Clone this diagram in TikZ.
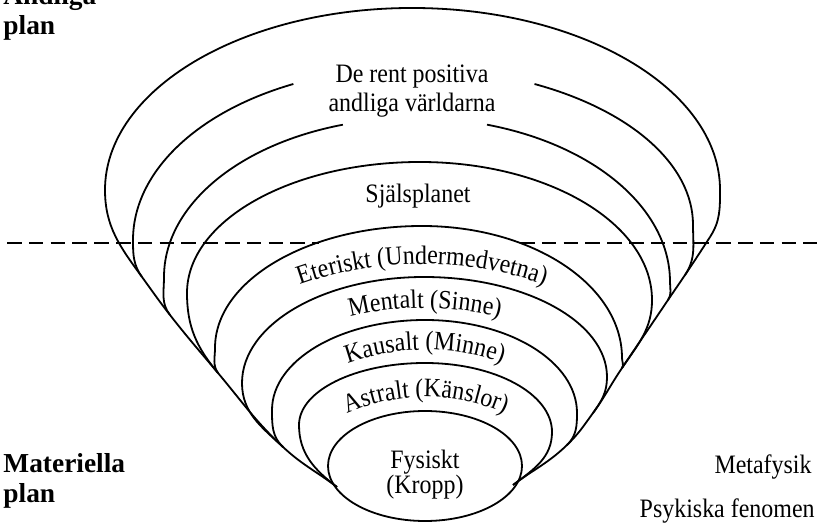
\documentclass[tikz,border=0pt]{standalone}
\usepackage{fontspec}
\setmainfont{Liberation Serif}
\newfontfamily\condfont[FakeStretch=0.9]{Liberation Serif}
\usetikzlibrary{positioning,shapes.geometric,decorations.text}

\newcommand{\layerfont}{\condfont\fontsize{13.3}{14.5}\selectfont}
\newcommand{\headfont}{\bfseries\fontsize{13.7}{15}\selectfont}

\begin{document}
\begin{tikzpicture}[x=0.5pt,y=0.5pt,
	planline/.style={line width=0.9pt},
	divider/.style={line width=1.3pt,dash pattern=on 7.3pt off 3.6pt},
	head/.style={font=\headfont,inner sep=0pt},
	txt/.style={font=\layerfont,inner sep=0pt},
	curved/.style={decorate,decoration={text along path,text align=center,text={|\layerfont|#1}}}]
	 	\useasboundingbox (0,0) rectangle (817,528);

	 	\coordinate (l1) at (337,41);
	 	\coordinate (l2) at (283,81);
	 	\coordinate (l3) at (218,155);
	 	\coordinate (l4) at (170,213);
	 	\coordinate (l5) at (142,251);
	 	\coordinate (r1) at (513,43);
	 	\coordinate (r2) at (567,83);
	 	\coordinate (r3) at (593,115);
	 	\coordinate (r4) at (622,160);
	 	\coordinate (r5) at (668,228);
	 	\coordinate (r6) at (685,253);
	 	\coordinate (r7) at (710,291);

	 	\node[draw,ellipse,planline,minimum width=97pt,minimum height=55pt,inner sep=0pt] (fys) at (425,62) {};

	 	\draw[planline] (l1) to[out=143,in=-43] (l2) to[out=137,in=-50] (l3) to[out=130,in=-52] (l4) to[out=128,in=-54] (l5);
	 	\draw[planline] (r1) to[out=37,in=224] (r2) to[out=44,in=234] (r3) to[out=54,in=236] (r4) to[out=56,in=236] (r5) to[out=56,in=236] (r6) to[out=56,in=237] (r7);

	 	\draw[planline] (l1) to[out=143,in=-90] (299,103) arc[start angle=180,end angle=90,x radius=126,y radius=62] arc[start angle=90,end angle=0,x radius=127,y radius=69] to[out=-90,in=37] (r1);
	 	\draw[planline] (l2) to[out=137,in=-90] (272,118) arc[start angle=180,end angle=90,x radius=153,y radius=90] arc[start angle=90,end angle=0,x radius=152,y radius=93] to[out=-90,in=44] (r2);
	 	\draw[planline] (l2) to[out=137,in=-90] (242,145) arc[start angle=180,end angle=90,x radius=182,y radius=106] arc[start angle=90,end angle=0,x radius=183,y radius=100] to[out=-90,in=54] (r3);
	 	\draw[planline] (l3) to[out=125,in=-90] (215,180) arc[start angle=180,end angle=90,x radius=207,y radius=122] arc[start angle=90,end angle=0,x radius=200,y radius=132] to[out=-90,in=56] (r4);
	 	\draw[planline] (l3) to[out=130,in=-90] (187,235) arc[start angle=180,end angle=90,x radius=233,y radius=131] arc[start angle=90,end angle=0,x radius=232,y radius=138] to[out=-90,in=56] (r4);
	 	\draw[planline] (l4) to[out=128,in=-90] (164,251) arc[start angle=180,end angle=106.7,x radius=251,y radius=159];
	 	\draw[planline] (r5) to[out=56,in=-90] (670,246) arc[start angle=0,end angle=73.6,x radius=255,y radius=164];
	 	\draw[planline] (l5) to[out=126,in=-90] (133,288) arc[start angle=180,end angle=114.9,x radius=277,y radius=172];
	 	\draw[planline] (r6) to[out=56,in=-90] (693,303) arc[start angle=0,end angle=63.9,x radius=283,y radius=157];
	 	\draw[planline] (l5) to[out=126,in=-90] (105,338) arc[start angle=180,end angle=90,x radius=307,y radius=182] arc[start angle=90,end angle=0,x radius=308,y radius=182] to[out=-90,in=57] (r7);

	 	\coordinate (dl) at (7,285);
	 	\coordinate (dlend) at (319,285);
	 	\coordinate (dr) at (520,285);
	 	\coordinate (drend) at (817,285);
	 	\draw[divider] (dl) -- (dlend);
	 	\draw[divider] (dr) -- (drend);

	 	\node[head,anchor=base west] (andl) at (3,523) {Andliga};
	 	\node[head,below=15pt of andl.base west,anchor=base west] (andlplan) {plan};
	 	\node[head,anchor=base west] (mat) at (3,55) {Materiella};
	 	\node[head,below=15pt of mat.base west,anchor=base west] (matplan) {plan};

	 	\node[txt,anchor=base east] (meta) at (812,54) {Metafysik};
	 	\node[txt,anchor=base east] (psyk) at (815,10) {Psykiska fenomen};

	 	\node[txt,anchor=base] (pos) at (412,445) {De rent positiva};
	 	\node[txt,below=14.5pt of pos.base,anchor=base] (varld) {andliga världarna};
	 	\node[txt,anchor=base] (sjal) at (418,325) {Själsplanet};
	 	\node[txt,align=center,font=\condfont\fontsize{13.3}{12.5}\selectfont] (fystxt) at (425,53) {Fysiskt\\(Kropp)};

	 	\path[curved={Eteriskt (Undermedvetna)}] ([shift={(118:368)}]422,-104) arc[start angle=118,end angle=62,radius=368];
	 	\path[curved={Mentalt (Sinne)}] ([shift={(112:317)}]425,-97) arc[start angle=112,end angle=68,radius=317];
	 	\path[curved={Kausalt (Minne)}] ([shift={(118:231)}]425,-53) arc[start angle=118,end angle=62,radius=231];
	 	\path[curved={Astralt (Känslor)}] ([shift={(125:192)}]426,-61) arc[start angle=125,end angle=55,radius=192];
	 \end{tikzpicture}
\end{document}
